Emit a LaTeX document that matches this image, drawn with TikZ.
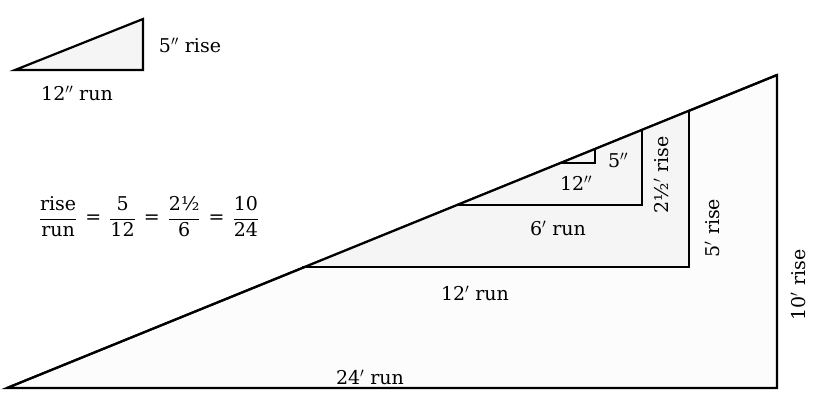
\RequirePackage{fix-cm}
\documentclass[tikz,border=0pt]{standalone}
\usepackage{fontspec}
\setmainfont{DejaVu Serif}
\newcommand{\inmk}{$^{\prime\prime}$}
\newcommand{\ftmk}{$^{\prime}$}
\newcommand{\eqgap}{\hspace{8pt}\mbox{=}\hspace{8pt}}
\begin{document}
\begin{tikzpicture}[x=1pt,y=-1pt,
  tri/.style={draw=black,line width=2.2pt,line join=miter},
  lbl/.style={font=\fontsize{19}{23}\selectfont,inner sep=1pt}]
\useasboundingbox (0,0) rectangle (826,406);
% top-left triangle
\coordinate (sa) at (15,70);
\coordinate (sb) at (143,70);
\coordinate (sc) at (143,19);
\draw[tri,fill=black!4] (sa) -- (sb) -- (sc) -- cycle;
\node[lbl] (srise) at (190,45) {5\inmk{} rise};
\node[lbl] (srun) at (77,93) {12\inmk{} run};
% fraction
\node[lbl] (frac) at (149,217) {$\displaystyle\frac{\mbox{rise}}{\mbox{run}}\eqgap\frac{\mbox{5}}{\mbox{12}}\eqgap\frac{\mbox{2½}}{\mbox{6}}\eqgap\frac{\mbox{10}}{\mbox{24}}$};
% big triangle
\coordinate (A) at (7,388);
\coordinate (B) at (777,388);
\coordinate (C) at (777,75);
\draw[tri,fill=black!1] (A) -- (B) -- (C) -- cycle;
% 12' triangle
\coordinate (p1) at (302,267);
\coordinate (p2) at (689,267);
\coordinate (p3) at (689,111);
\draw[tri,fill=black!4] (p1) -- (p2) -- (p3);
% 6' triangle
\coordinate (q1) at (457,205);
\coordinate (q2) at (642,205);
\coordinate (q3) at (642,130);
\draw[tri] (q1) -- (q2) -- (q3);
% tiny triangle
\coordinate (r1) at (560,163);
\coordinate (r2) at (595,163);
\coordinate (r3) at (595,149);
\draw[tri] (r1) -- (r2) -- (r3);
% hypotenuse redrawn on top
\draw[tri] (A) -- (C);
% labels
\node[lbl] (tr12) at (576,183) {12\inmk};
\node[lbl] (tr5) at (618,160) {5\inmk};
\node[lbl] (r6) at (558,228) {6\ftmk{} run};
\node[lbl,rotate=90] (r25) at (661,175) {2½\ftmk{} rise};
\node[lbl,rotate=90] (r5) at (712,228) {5\ftmk{} rise};
\node[lbl] (r12) at (475,293) {12\ftmk{} run};
\node[lbl,rotate=90] (r10) at (798,285) {10\ftmk{} rise};
\node[lbl] (r24) at (370,377) {24\ftmk{} run};
\end{tikzpicture}
\end{document}
